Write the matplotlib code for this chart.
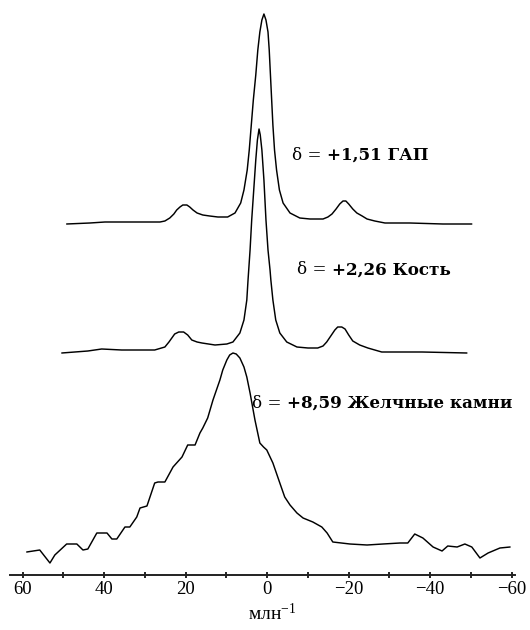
import matplotlib
matplotlib.use("Agg")
import matplotlib.pyplot as plt

plt.rcParams['mathtext.fontset'] = 'custom'
plt.rcParams['mathtext.rm'] = 'Liberation Serif'
plt.rcParams['mathtext.it'] = 'Liberation Serif:italic'
plt.rcParams['axes.unicode_minus'] = True

# --- traced spectra (chemical shift in ppm, intensity in arbitrary units incl. stacking offset) ---
gap_ppm = [49.2, 43.5, 39.8, 34.4, 26.3, 25.1, 23.9, 22.9, 22.2, 21.4, 20.7, 19.7, 19.0, 18.2,
           17.2, 15.8, 14.1, 12.1, 9.7, 7.9, 6.5, 5.7, 4.9, 4.4, 3.9, 3.4, 2.8, 2.3, 1.8, 1.3,
           0.8, 0.3, -0.2, -0.5, -0.8, -1.1, -1.4, -1.8, -2.3, -3.0, -3.9, -5.6, -8.0, -10.5,
           -13.7, -14.9, -15.9, -16.9, -17.8, -18.6, -19.3, -20.0, -21.0, -22.0, -23.3, -24.5,
           -26.4, -28.9, -35.0, -43.1, -50.2]
gap_int = [351, 352, 353, 353, 353, 354, 357, 361, 365, 368, 370, 370, 368, 365,
           362, 360, 359, 358, 358, 362, 372, 385, 405, 425, 450, 475, 500, 525, 543, 555,
           561, 555, 543, 525, 500, 475, 450, 425, 405, 385, 372, 362, 357, 356,
           356, 358, 361, 366, 371, 374, 374, 371, 366, 362, 359, 356,
           354, 352, 352, 351, 351]

bone_ppm = [50.4, 44.0, 40.6, 35.7, 27.6, 25.1, 24.1, 23.4, 22.7, 21.7, 20.5, 19.5, 18.5, 17.2,
            16.0, 12.8, 9.9, 8.4, 6.7, 5.7, 5.0, 4.7, 4.2, 3.8, 3.3, 2.8, 2.4, 2.0, 1.7, 1.3,
            0.8, 0.3, -0.2, -0.7, -0.9, -1.4, -2.1, -3.1, -4.8, -7.3, -10.0, -12.4, -13.7,
            -14.6, -15.6, -16.6, -17.3, -18.3, -19.1, -20.0, -21.0, -22.7, -24.7, -28.1,
            -38.0, -49.0]
bone_int = [222, 224, 226, 225, 225, 228, 233, 237, 241, 243, 243, 240, 235, 233,
            232, 230, 231, 233, 242, 255, 275, 295, 325, 355, 385, 415, 435, 446, 440, 425,
            395, 355, 325, 305, 295, 275, 255, 242, 233, 228, 227, 227, 229,
            233, 239, 245, 248, 248, 246, 240, 234, 230, 227, 223,
            223, 222]

stone_ppm = [59.0, 55.8, 53.3, 52.1, 49.2, 46.7, 45.2, 44.0, 41.8, 39.3, 38.1, 36.9, 34.9, 33.7,
             32.0, 31.2, 29.5, 27.6, 26.8, 25.1, 23.1, 20.9, 19.5, 17.7, 16.5, 15.8, 14.6, 13.3,
             11.6, 10.9, 9.9, 9.2, 8.4, 7.6, 6.7, 5.7, 5.0, 4.2, 3.0, 1.8, 0.9, 0.1, -1.4, -3.1,
             -4.3, -5.6, -7.3, -8.8, -11.2, -13.4, -14.7, -16.1, -20.3, -24.5, -28.4, -32.6,
             -34.5, -36.2, -38.2, -40.7, -42.9, -44.3, -46.6, -48.5, -50.2, -52.2, -54.2,
             -57.1, -59.6]
stone_int = [23, 25, 12, 20, 31, 31, 25, 26, 42, 42, 36, 36, 48, 48,
             58, 67, 69, 92, 93, 93, 108, 118, 130, 130, 142, 147, 157, 175,
             195, 205, 215, 220, 222, 221, 217, 208, 198, 182, 155, 132, 128, 125, 112, 92,
             78, 70, 62, 57, 53, 48, 42, 33, 31, 30, 31, 32,
             32, 41, 37, 28, 24, 29, 28, 31, 28, 17, 22,
             27, 28]

labels_ppm = ["+1,51 ГАП", "+2,26 Кость", "+8,59 Желчные камни"]
x_ticks = [60, 40, 20, 0, -20, -40, -60]
x_minor = [50, 30, 10, -10, -30, -50]

fig = plt.figure(figsize=(5.3, 6.3), dpi=100)
ax = fig.add_axes([10/530, 55/630, 505/530, 575/630])

for xs, ys in [(gap_ppm, gap_int), (bone_ppm, bone_int), (stone_ppm, stone_int)]:
    ax.plot(xs, ys, color='black', lw=1.05, solid_joinstyle='round', solid_capstyle='round')

ax.set_xlim(63.1, -60.8)
ax.set_ylim(0, 575)
for s in ['top', 'left', 'right']:
    ax.spines[s].set_visible(False)
ax.spines['bottom'].set_linewidth(1.4)
ax.spines['bottom'].set_color('#222222')
ax.set_yticks([])
ax.set_xticks(x_ticks)
ax.set_xticks(x_minor, minor=True)
ax.set_xticklabels([f"{v}".replace('-', '\u2212') for v in x_ticks])
ax.tick_params(axis='x', which='both', direction='inout', length=5, width=1.2, pad=2,
               labelsize=13.5)
for lab in ax.get_xticklabels():
    lab.set_fontfamily('Liberation Serif')
ax.set_xlabel("млн$^{-1}$", fontfamily='Liberation Serif', fontsize=14, labelpad=3)
ax.xaxis.label.set_x(0.52)

pos = [(-6.1, 420), (-7.3, 305), (3.8, 172)]
for (x, y), txt in zip(pos, labels_ppm):
    t = ax.text(x, y, "\u03b4 = ", fontfamily='DejaVu Serif', fontsize=12.1, va='center', ha='left')
    ax.annotate(txt, xy=(1, 0), xycoords=t, va='bottom', ha='left',
                fontfamily='DejaVu Serif', fontweight='bold', fontsize=12.1)

fig.savefig("out.png", dpi=100)
